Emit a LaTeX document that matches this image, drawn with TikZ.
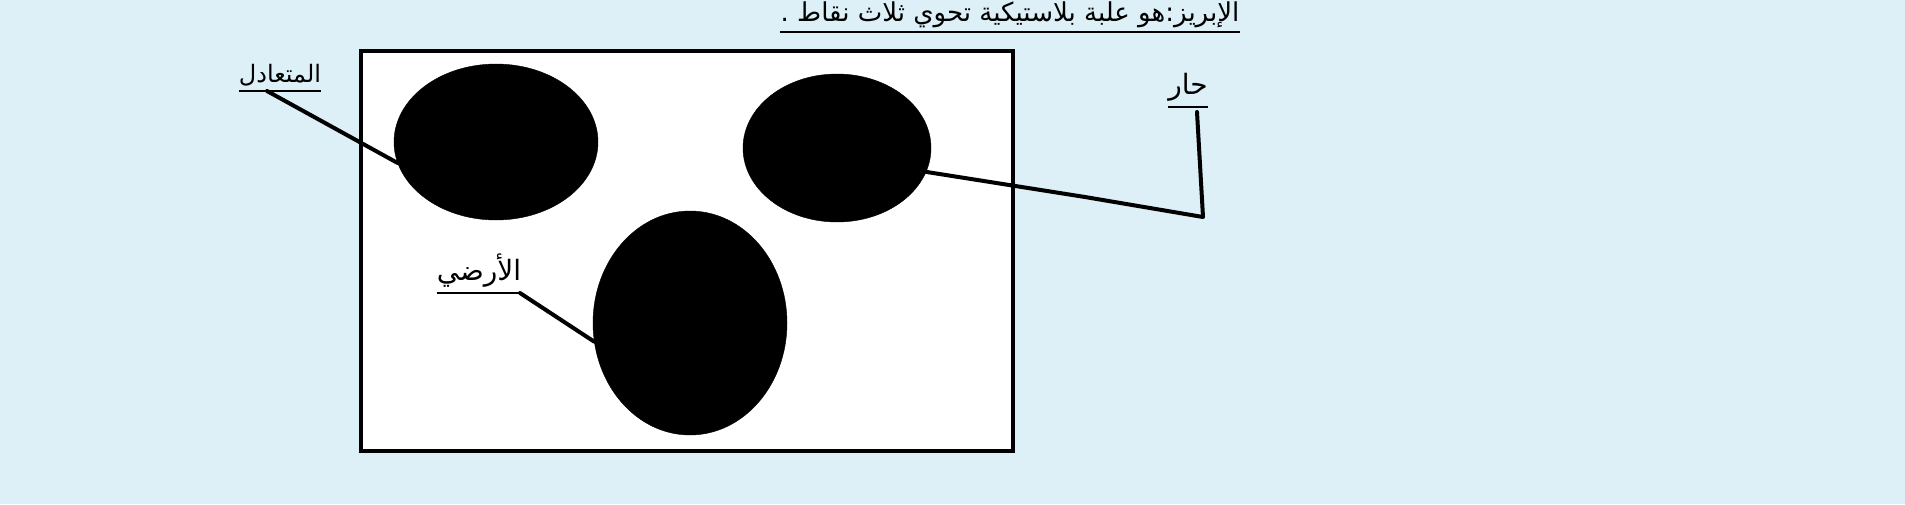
\documentclass[tikz,border=0pt]{standalone}
\usepackage{fontspec}
\usetikzlibrary{shapes.geometric}
\TeXXeTstate=1
\newfontfamily\arabicfont[Script=Arabic]{DejaVu Sans}
\definecolor{skyback}{RGB}{221,240,247}
\tikzset{
  blob/.style = {ellipse, fill = black, draw = black, inner sep = 0pt},
  word/.style = {inner sep = 0pt, font = \arabicfont\fontsize{26}{26}\selectfont},
  wire/.style = {line width = 4pt, line cap = round, line join = round}
}

\begin{document}
\begin{tikzpicture}[x = 1pt, y = -1pt]
        \fill [skyback] (0,0) rectangle (1905,504);
        \useasboundingbox (0,0) rectangle (1905,504);
        \node [draw, fill = white, line width = 4pt, minimum width = 652pt, minimum height = 400pt] (box) at (687,251) {};
        \node [blob, minimum width = 204pt, minimum height = 156pt] (e1) at (496,142) {};
        \node [blob, minimum width = 188pt, minimum height = 148pt] (e2) at (837,148) {};
        \node [blob, minimum width = 194pt, minimum height = 224pt] (e3) at (690,323) {};
        \node [word, anchor = south] (title) at (1010,28) {\beginR الإبريز:هو علبة بلاستيكية تحوي ثلاث نقاط .\endR};
        \node [word, font = \arabicfont\fontsize{24}{24}\selectfont, anchor = south] (neu) at (280,86) {\beginR المتعادل\endR};
        \node [word, font = \arabicfont\fontsize{28}{28}\selectfont, anchor = south] (hot) at (1188,102) {\beginR حار\endR};
        \node [word, font = \arabicfont\fontsize{28}{28}\selectfont, anchor = south] (earth) at (479,288) {\beginR الأرضي\endR};
        \draw [line width = 2pt] ([yshift = -4pt] title.south west) -- ([yshift = -4pt] title.south east);
        \draw [line width = 2pt] ([yshift = -5pt] neu.south west) -- ([yshift = -5pt] neu.south east);
        \draw [line width = 2pt] ([yshift = -5pt] hot.south west) -- ([yshift = -5pt] hot.south east);
        \draw [line width = 2pt] ([yshift = -5pt] earth.south west) -- ([yshift = -5pt] earth.south east);
        \coordinate (hotbend) at (1085,197);
        \coordinate (hotcorner) at (1203,217);
        \coordinate (hottop) at (1197,112);
        \draw [wire] ([xshift = -13pt, yshift = -5pt] neu.south) -- (e1.192);
        \draw [wire] (e2.-15) -- (hotbend) -- (hotcorner) -- (hottop);
        \draw [wire] ([xshift = 41pt, yshift = -5pt] earth.south) -- (e3.191);
\end{tikzpicture}
\end{document}
